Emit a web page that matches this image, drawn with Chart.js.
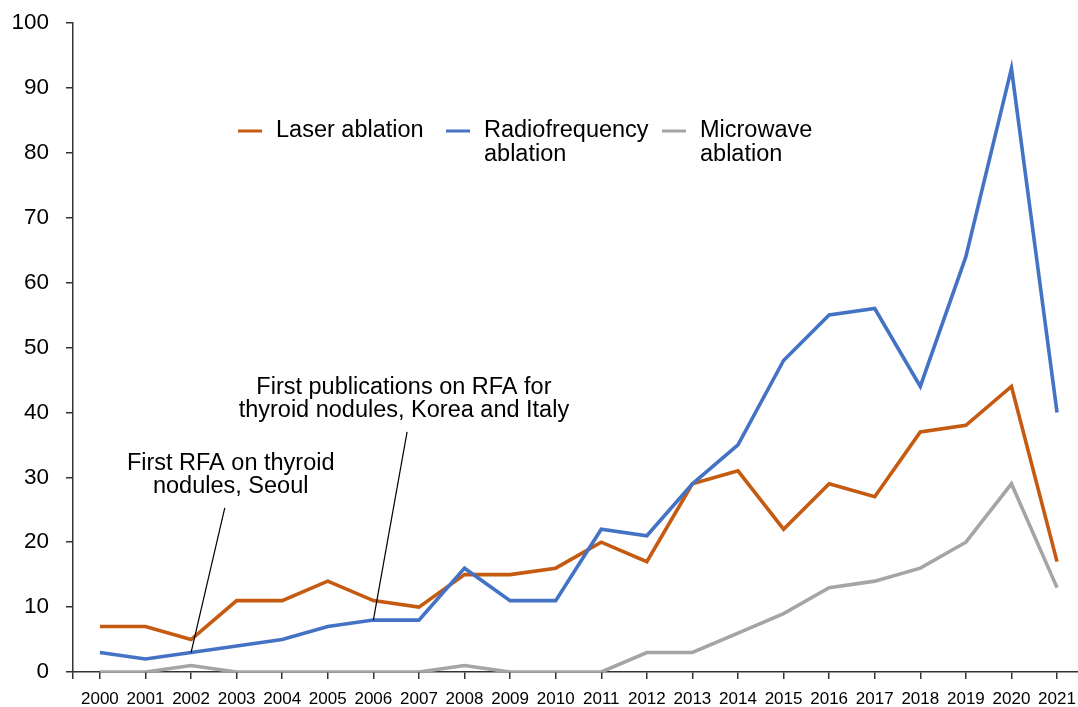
<!DOCTYPE html>
<html lang="en">
<head>
  <meta charset="UTF-8">
  <title>Thermal ablation publications</title>
  <style>
    html, body { margin: 0; padding: 0; background: #fff; overflow: hidden; }
    #chart-container { width: 1078px; height: 707px; }
  </style>
</head>
<body>

<div id="chart-container">
  <canvas id="lineChart"></canvas>
</div>

<script src="https://cdn.jsdelivr.net/npm/chart.js"></script>
<script>
  const years = ['2000', '2001', '2002', '2003', '2004', '2005', '2006', '2007', '2008', '2009', '2010',
                 '2011', '2012', '2013', '2014', '2015', '2016', '2017', '2018', '2019', '2020', '2021'];
  const laser = [7, 7, 5, 11, 11, 14, 11, 10, 15, 15, 16, 20, 17, 29, 31, 22, 29, 27, 37, 38, 44, 17];
  const rfa = [3, 2, 3, 4, 5, 7, 8, 8, 16, 11, 11, 22, 21, 29, 35, 48, 55, 56, 44, 64, 93, 40];
  const microwave = [0, 0, 1, 0, 0, 0, 0, 0, 1, 0, 0, 0, 3, 3, 6, 9, 13, 14, 16, 20, 29, 13];
  const yTicks = [0, 10, 20, 30, 40, 50, 60, 70, 80, 90, 100];

  const legendLabels = [['Laser ablation'], ['Radiofrequency', 'ablation'], ['Microwave', 'ablation']];
  const noteTexts = [
    ['First RFA on thyroid', 'nodules, Seoul'],
    ['First publications on RFA for', 'thyroid nodules, Korea and Italy']
  ];
  const noteYears = [2, 6];   // index into years, pointing at the RFA line

  const FONT = '"Liberation Sans", Arial, Helvetica, sans-serif';
  const colors = ['#C55A11', '#4472C4', '#A5A5A5'];

  const toPoints = arr => arr.map((v, i) => ({ x: i, y: v }));

  // legend + annotations drawn on top of the lines
  const overlay = {
    id: 'overlay',
    afterDatasetsDraw(chart) {
      const { ctx, scales: { x, y } } = chart;
      ctx.save();
      ctx.font = `23.5px ${FONT}`;
      ctx.fillStyle = '#000';
      ctx.textBaseline = 'middle';

      // annotations (placed in data units)
      const notePos = [
        { tx: 2.87, ty: 32.2, lx: 2.74, ly: 25.3 },
        { tx: 6.67, ty: 43.9, lx: 6.74, ly: 37.0 }
      ];
      ctx.textAlign = 'center';
      noteTexts.forEach((lines, n) => {
        const p = notePos[n];
        lines.forEach((t, i) => {
          ctx.fillText(t, x.getPixelForValue(p.tx), y.getPixelForValue(p.ty) + i * 23.5);
        });
        const idx = noteYears[n];
        ctx.beginPath();
        ctx.moveTo(x.getPixelForValue(p.lx), y.getPixelForValue(p.ly));
        ctx.lineTo(x.getPixelForValue(idx), y.getPixelForValue(rfa[idx]));
        ctx.lineWidth = 1.2;
        ctx.strokeStyle = '#000';
        ctx.stroke();
      });

      // legend
      const legendX = [238, 446, 662];
      const legendY = 131;
      ctx.textAlign = 'left';
      legendLabels.forEach((lines, i) => {
        ctx.beginPath();
        ctx.moveTo(legendX[i], legendY);
        ctx.lineTo(legendX[i] + 24, legendY);
        ctx.lineWidth = 3;
        ctx.strokeStyle = colors[i];
        ctx.stroke();
        lines.forEach((t, j) => ctx.fillText(t, legendX[i] + 38, legendY + j * 24));
      });
      ctx.restore();
    }
  };

  const data = {
    datasets: [
      { label: 'Laser ablation', data: toPoints(laser), borderColor: colors[0], order: 2 },
      { label: 'Radiofrequency ablation', data: toPoints(rfa), borderColor: colors[1], order: 1 },
      { label: 'Microwave ablation', data: toPoints(microwave), borderColor: colors[2], order: 3 }
    ]
  };
  data.datasets.forEach(d => {
    d.borderWidth = 3.6;
    d.pointRadius = 0;
    d.tension = 0;
    d.fill = false;
  });

  const config = {
    type: 'line',
    data: data,
    options: {
      responsive: true,
      maintainAspectRatio: false,
      animation: false,
      layout: { padding: { top: 23, left: 0, right: 0, bottom: 0 } },
      scales: {
        x: {
          type: 'linear',
          min: -0.59,
          max: 21.46,
          afterBuildTicks: s => {
            s.ticks = [{ value: s.min }].concat(years.map((_, i) => ({ value: i })));
          },
          afterFit: s => { s.height = 35; s.paddingLeft = 0; s.paddingRight = 0; },
          border: { color: '#333', width: 1.5 },
          grid: { drawOnChartArea: false, tickLength: 7, color: '#333', lineWidth: 1.5 },
          ticks: {
            autoSkip: false,
            maxRotation: 0,
            padding: 10,
            color: '#000',
            font: { family: FONT, size: 17 },
            callback: v => Number.isInteger(v) ? years[v] : ''
          }
        },
        y: {
          min: 0,
          max: 100,
          afterBuildTicks: s => { s.ticks = yTicks.map(v => ({ value: v })); },
          afterFit: s => { s.width = 73; s.paddingTop = 0; s.paddingBottom = 0; },
          border: { color: '#333', width: 1.5 },
          grid: { drawOnChartArea: false, tickLength: 7, color: '#333', lineWidth: 1.5 },
          ticks: {
            padding: 17,
            color: '#000',
            font: { family: FONT, size: 22.5 }
          }
        }
      },
      plugins: {
        legend: { display: false },
        tooltip: { enabled: false }
      }
    },
    plugins: [overlay]
  };

  const ctx = document.getElementById('lineChart').getContext('2d');
  const myChart = new Chart(ctx, config);
</script>

</body>
</html>
